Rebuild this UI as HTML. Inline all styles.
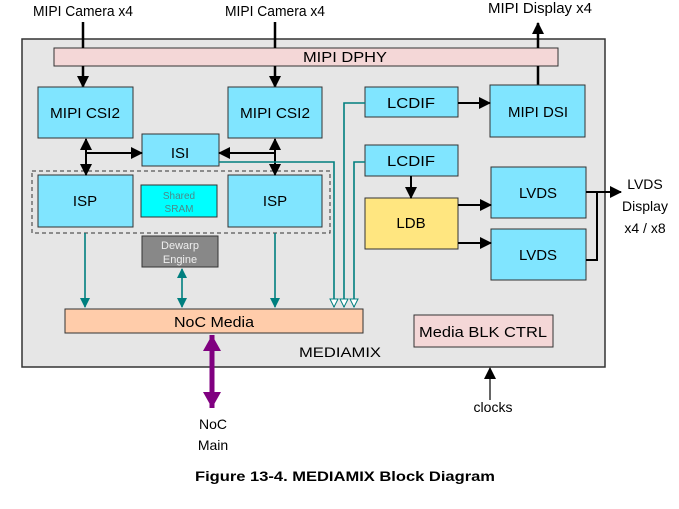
<!DOCTYPE html>
<html><head><meta charset="utf-8"><style>
html,body{margin:0;padding:0;background:#fff;}
svg{display:block;font-family:"Liberation Sans",Arial,Helvetica,sans-serif;}
svg text{font-family:"Liberation Sans",Arial,Helvetica,sans-serif;fill:#000;}
</style></head><body>
<svg width="679" height="509" viewBox="0 0 679 509" xmlns="http://www.w3.org/2000/svg" font-family="Liberation Sans, Arial, sans-serif">
<defs>
<marker id="ab" markerWidth="12" markerHeight="12" refX="11" refY="6" orient="auto-start-reverse" markerUnits="userSpaceOnUse"><path d="M0,0 L12,6 L0,12 z" fill="#000"/></marker>
<marker id="at" markerWidth="10" markerHeight="10" refX="9" refY="5" orient="auto-start-reverse" markerUnits="userSpaceOnUse"><path d="M0,0 L10,5 L0,10 z" fill="#007f7f"/></marker>
<marker id="ao" markerWidth="10" markerHeight="10" refX="9" refY="5" orient="auto" markerUnits="userSpaceOnUse"><path d="M1,1 L9,5 L1,9 z" fill="#fff" stroke="#007f7f" stroke-width="1"/></marker>
<marker id="ap" markerWidth="18" markerHeight="18" refX="16" refY="9" orient="auto-start-reverse" markerUnits="userSpaceOnUse"><path d="M0,0 L16,9 L0,18 z" fill="#800080"/></marker>
</defs>
<g font-family="Liberation Sans, Arial, sans-serif">
<text x="83" y="16" font-size="15" text-anchor="middle" textLength="100" lengthAdjust="spacingAndGlyphs">MIPI Camera x4</text>
<text x="275" y="16" font-size="15" text-anchor="middle" textLength="100" lengthAdjust="spacingAndGlyphs">MIPI Camera x4</text>
<text x="540" y="13" font-size="15" text-anchor="middle" textLength="104" lengthAdjust="spacingAndGlyphs">MIPI Display x4</text>
<rect x="22" y="39" width="583" height="328" fill="#e6e6e6" stroke="#333" stroke-width="1.5"/>
<rect x="54" y="48" width="504" height="18" fill="#f4d7d7" stroke="#333"/>
<text x="345" y="62" font-size="15" text-anchor="middle" textLength="84" lengthAdjust="spacingAndGlyphs">MIPI DPHY</text>
<line x1="83" y1="22" x2="83" y2="48" stroke="#000" stroke-width="2.5"/>
<line x1="83" y1="66" x2="83" y2="87" stroke="#000" stroke-width="2.5" marker-end="url(#ab)"/>
<line x1="275" y1="22" x2="275" y2="48" stroke="#000" stroke-width="2.5"/>
<line x1="275" y1="66" x2="275" y2="87" stroke="#000" stroke-width="2.5" marker-end="url(#ab)"/>
<line x1="538" y1="85" x2="538" y2="66" stroke="#000" stroke-width="2.5"/>
<line x1="538" y1="48" x2="538" y2="23" stroke="#000" stroke-width="2.5" marker-end="url(#ab)"/>
<g stroke="#333" stroke-width="1">
<rect x="38" y="87" width="95" height="51" fill="#80e5ff"/>
<rect x="228" y="87" width="94" height="51" fill="#80e5ff"/>
<rect x="142" y="134" width="77" height="32" fill="#80e5ff"/>
<rect x="38" y="175" width="95" height="52" fill="#80e5ff"/>
<rect x="228" y="175" width="94" height="52" fill="#80e5ff"/>
<rect x="141" y="185" width="76" height="32" fill="#00ffff"/>
<rect x="142" y="236" width="76" height="31" fill="#888"/>
<rect x="365" y="87" width="93" height="30" fill="#80e5ff"/>
<rect x="490" y="85" width="95" height="52" fill="#80e5ff"/>
<rect x="365" y="145" width="93" height="31" fill="#80e5ff"/>
<rect x="365" y="198" width="93" height="51" fill="#ffe680"/>
<rect x="491" y="167" width="95" height="51" fill="#80e5ff"/>
<rect x="491" y="229" width="95" height="51" fill="#80e5ff"/>
<rect x="65" y="309" width="298" height="24" fill="#ffccaa"/>
<rect x="414" y="315" width="139" height="32" fill="#f4d7d7"/>
</g>
<rect x="32" y="171" width="298" height="62" fill="none" stroke="#333" stroke-dasharray="4,3"/>
<text x="85" y="118" font-size="15" text-anchor="middle" textLength="70" lengthAdjust="spacingAndGlyphs">MIPI CSI2</text>
<text x="275" y="118" font-size="15" text-anchor="middle" textLength="70" lengthAdjust="spacingAndGlyphs">MIPI CSI2</text>
<text x="180" y="158" font-size="15" text-anchor="middle">ISI</text>
<text x="85" y="206" font-size="15" text-anchor="middle">ISP</text>
<text x="275" y="206" font-size="15" text-anchor="middle">ISP</text>
<text x="179" y="199" font-size="10" text-anchor="middle" style="fill:#4a8a8a">Shared</text>
<text x="179" y="212" font-size="10" text-anchor="middle" style="fill:#4a8a8a">SRAM</text>
<text x="180" y="249" font-size="11" text-anchor="middle" style="fill:#eee">Dewarp</text>
<text x="180" y="263" font-size="11" text-anchor="middle" style="fill:#eee">Engine</text>
<text x="411" y="108" font-size="15" text-anchor="middle" textLength="48" lengthAdjust="spacingAndGlyphs">LCDIF</text>
<text x="538" y="117" font-size="15" text-anchor="middle" textLength="60" lengthAdjust="spacingAndGlyphs">MIPI DSI</text>
<text x="411" y="166" font-size="15" text-anchor="middle" textLength="48" lengthAdjust="spacingAndGlyphs">LCDIF</text>
<text x="411" y="228" font-size="15" text-anchor="middle">LDB</text>
<text x="538" y="198" font-size="15" text-anchor="middle" textLength="38" lengthAdjust="spacingAndGlyphs">LVDS</text>
<text x="538" y="260" font-size="15" text-anchor="middle" textLength="38" lengthAdjust="spacingAndGlyphs">LVDS</text>
<text x="214" y="327" font-size="15" text-anchor="middle" textLength="80" lengthAdjust="spacingAndGlyphs">NoC Media</text>
<text x="483" y="337" font-size="15" text-anchor="middle" textLength="128" lengthAdjust="spacingAndGlyphs">Media BLK CTRL</text>
<text x="340" y="357" font-size="14" text-anchor="middle" textLength="82" lengthAdjust="spacingAndGlyphs">MEDIAMIX</text>
<text x="645" y="189" font-size="14" text-anchor="middle">LVDS</text>
<text x="645" y="211" font-size="14" text-anchor="middle">Display</text>
<text x="645" y="233" font-size="14" text-anchor="middle">x4 / x8</text>
<text x="493" y="412" font-size="14" text-anchor="middle">clocks</text>
<text x="213" y="429" font-size="14" text-anchor="middle">NoC</text>
<text x="213" y="450" font-size="14" text-anchor="middle">Main</text>
<text x="345" y="481" font-size="14" font-weight="bold" text-anchor="middle" textLength="300" lengthAdjust="spacingAndGlyphs">Figure 13-4. MEDIAMIX Block Diagram</text>
</g>
<g stroke="#000" stroke-width="2" fill="none">
<line x1="86" y1="139" x2="86" y2="175" marker-start="url(#ab)" marker-end="url(#ab)"/>
<line x1="86" y1="153" x2="142" y2="153" marker-end="url(#ab)"/>
<line x1="275" y1="139" x2="275" y2="175" marker-start="url(#ab)" marker-end="url(#ab)"/>
<line x1="275" y1="153" x2="219" y2="153" marker-end="url(#ab)"/>
<line x1="458" y1="103" x2="490" y2="103" marker-end="url(#ab)"/>
<line x1="411" y1="176" x2="411" y2="198" marker-end="url(#ab)"/>
<line x1="458" y1="205" x2="491" y2="205" marker-end="url(#ab)"/>
<line x1="458" y1="243" x2="491" y2="243" marker-end="url(#ab)"/>
<polyline points="586,192 621,192" marker-end="url(#ab)"/>
<polyline points="586,260 597,260 597,192"/>
</g>
<line x1="490" y1="400" x2="490" y2="368" stroke="#000" stroke-width="1.2" marker-end="url(#ab)"/>
<g stroke="#007f7f" stroke-width="1.6" fill="none">
<line x1="85" y1="233" x2="85" y2="307" marker-end="url(#at)"/>
<line x1="275" y1="233" x2="275" y2="307" marker-end="url(#at)"/>
<line x1="182" y1="269" x2="182" y2="307" marker-start="url(#at)" marker-end="url(#at)"/>
<polyline points="219,162 334,162 334,307" marker-end="url(#ao)"/>
<polyline points="365,103 344,103 344,307" marker-end="url(#ao)"/>
<polyline points="365,162 354,162 354,307" marker-end="url(#ao)"/>
</g>
<line x1="212" y1="335" x2="212" y2="408" stroke="#800080" stroke-width="5" marker-start="url(#ap)" marker-end="url(#ap)"/>
</svg>
</body></html>
